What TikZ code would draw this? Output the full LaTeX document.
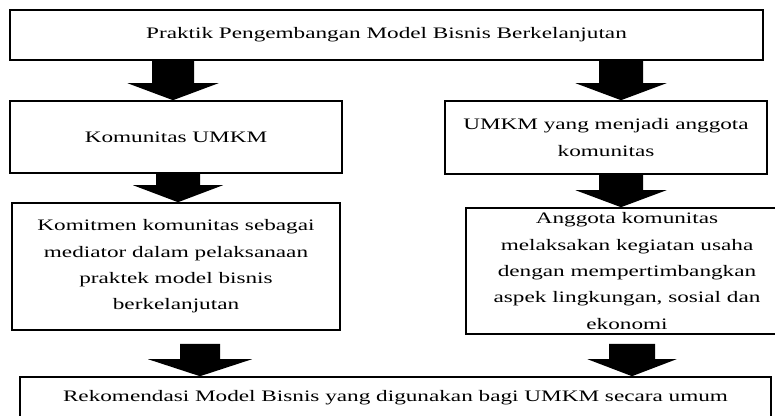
\documentclass[tikz,border=0pt]{standalone}
\usepackage{fontspec}
\setmainfont{Liberation Serif}[FakeStretch=1.45]
\usetikzlibrary{calc}
\newcommand\blockarrow[6]{%
  \fill let \p1=(#2.south), \p2=(#3.north) in
    (#4pt-#5pt,\y1-#1pt) -- (#4pt+#5pt,\y1-#1pt) -- (#4pt+#5pt,\y2+17pt) --
    (#4pt+#6pt,\y2+17pt) -- (#4pt,\y2) -- (#4pt-#6pt,\y2+17pt) --
    (#4pt-#5pt,\y2+17pt) -- cycle;}
\begin{document}
\begin{tikzpicture}[x=1pt,y=-1pt,
  box/.style={draw, line width=1.6pt, inner sep=0pt, align=center,
    font=\fontsize{16}{26.3}\selectfont}]
\useasboundingbox (0,0) rectangle (775,415);
\node[box, minimum width=753pt, minimum height=50pt] (top) at (386.5,35)
  {Praktik Pengembangan Model Bisnis Berkelanjutan};
\node[box, minimum width=332pt, minimum height=72pt] (l1) at (176,137)
  {Komunitas UMKM};
\node[box, minimum width=322pt, minimum height=73pt] (r1) at (606,137.5)
  {UMKM yang menjadi anggota\\komunitas};
\node[box, minimum width=328pt, minimum height=127pt] (l2) at (176,266.5)
  {Komitmen komunitas sebagai\\mediator dalam pelaksanaan\\praktek model bisnis\\berkelanjutan};
\node[box, minimum width=322pt, minimum height=126pt] (r2) at (627,271)
  {Anggota komunitas\\melaksakan kegiatan usaha\\dengan mempertimbangkan\\aspek lingkungan, sosial dan\\ekonomi};
\node[box, minimum width=751pt, minimum height=41pt] (bot) at (395.5,397.5)
  {Rekomendasi Model Bisnis yang digunakan bagi UMKM secara umum};
\blockarrow{0}{top}{l1}{173}{21}{45.5}
\blockarrow{0}{top}{r1}{621}{22}{45.5}
\blockarrow{0}{l1}{l2}{178}{22}{45}
\blockarrow{0}{r1}{r2}{621}{22}{45.5}
\blockarrow{13}{l2}{bot}{200}{20}{52}
\blockarrow{9}{r2}{bot}{632}{23}{44.5}
\end{tikzpicture}
\end{document}
